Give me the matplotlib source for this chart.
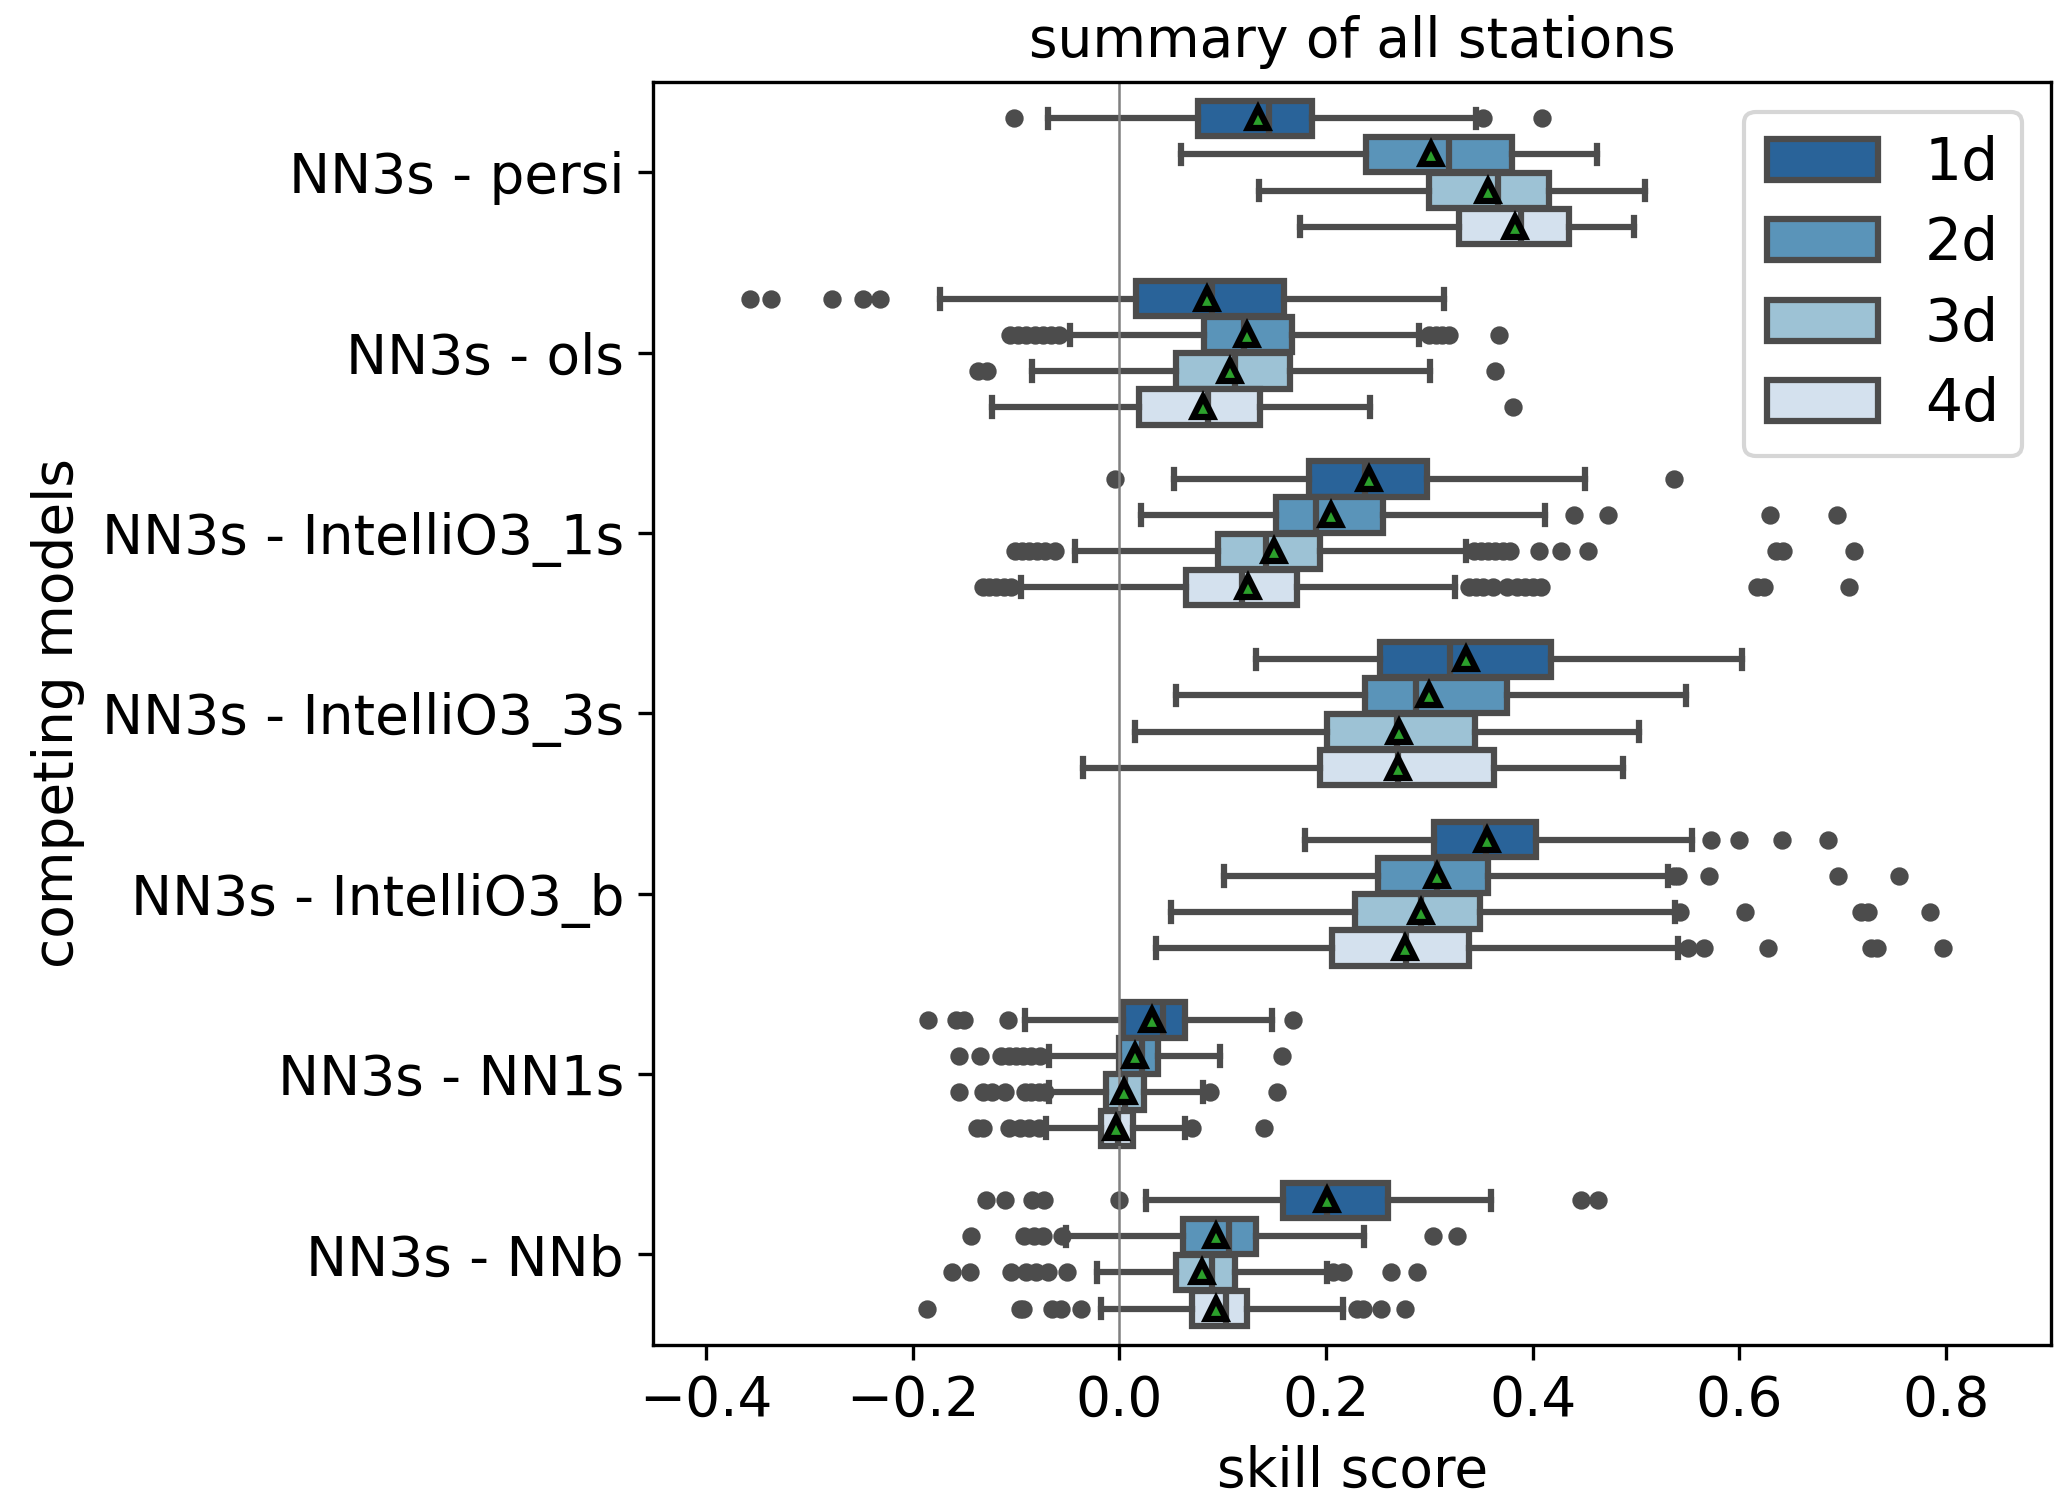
import colorsys

import matplotlib
matplotlib.use("Agg")
import matplotlib.pyplot as plt
from matplotlib.patches import Patch
import numpy as np

"""
    Skill scores of NN3s against competing models, summary of all stations.
    Box statistics read per model (rows) and lead time (columns).
"""
models = [
    "NN3s - persi",
    "NN3s - ols",
    "NN3s - IntelliO3_1s",
    "NN3s - IntelliO3_3s",
    "NN3s - IntelliO3_b",
    "NN3s - NN1s",
    "NN3s - NNb",
]
lead_times = ["1d", "2d", "3d", "4d"]

q1 = [
    [0.076, 0.239, 0.300, 0.329],
    [0.016, 0.082, 0.055, 0.019],
    [0.184, 0.152, 0.096, 0.065],
    [0.252, 0.238, 0.201, 0.194],
    [0.305, 0.250, 0.228, 0.206],
    [0.004, 0.000, -0.013, -0.018],
    [0.158, 0.062, 0.055, 0.070],
]
medians = [
    [0.145, 0.319, 0.366, 0.389],
    [0.090, 0.121, 0.112, 0.086],
    [0.238, 0.190, 0.142, 0.119],
    [0.320, 0.287, 0.269, 0.270],
    [0.355, 0.307, 0.292, 0.277],
    [0.042, 0.022, 0.006, -0.001],
    [0.201, 0.106, 0.090, 0.103],
]
q3 = [
    [0.186, 0.380, 0.416, 0.435],
    [0.159, 0.167, 0.165, 0.136],
    [0.298, 0.255, 0.194, 0.172],
    [0.418, 0.375, 0.344, 0.363],
    [0.403, 0.357, 0.349, 0.338],
    [0.064, 0.037, 0.024, 0.013],
    [0.260, 0.132, 0.112, 0.124],
]
whisker_low = [
    [-0.069, 0.060, 0.135, 0.175],
    [-0.173, -0.048, -0.084, -0.123],
    [0.053, 0.021, -0.043, -0.095],
    [0.132, 0.055, 0.015, -0.035],
    [0.180, 0.101, 0.050, 0.036],
    [-0.091, -0.068, -0.068, -0.071],
    [0.026, -0.052, -0.022, -0.018],
]
whisker_high = [
    [0.345, 0.462, 0.509, 0.498],
    [0.314, 0.290, 0.301, 0.243],
    [0.451, 0.412, 0.335, 0.325],
    [0.603, 0.548, 0.503, 0.487],
    [0.554, 0.531, 0.538, 0.541],
    [0.148, 0.097, 0.081, 0.064],
    [0.360, 0.237, 0.201, 0.216],
]
means = [
    [0.134, 0.302, 0.357, 0.383],
    [0.085, 0.124, 0.107, 0.081],
    [0.242, 0.205, 0.150, 0.125],
    [0.335, 0.300, 0.271, 0.270],
    [0.356, 0.307, 0.292, 0.276],
    [0.032, 0.015, 0.005, -0.003],
    [0.201, 0.094, 0.080, 0.094],
]
outliers = [
    [[-0.102, 0.352, 0.409], [], [], []],
    [[-0.357, -0.337, -0.278, -0.248, -0.232],
     [-0.106, -0.098, -0.090, -0.082, -0.074, -0.066, -0.058,
      0.300, 0.306, 0.312, 0.319, 0.367],
     [-0.137, -0.128, 0.364],
     [0.381]],
    [[-0.004, 0.537],
     [0.440, 0.473, 0.630, 0.694],
     [-0.101, -0.094, -0.087, -0.080, -0.072, -0.062, 0.343, 0.350, 0.357,
      0.364, 0.371, 0.378, 0.406, 0.427, 0.454, 0.635, 0.642, 0.711],
     [-0.132, -0.126, -0.119, -0.112, -0.105, 0.338, 0.345, 0.352, 0.362,
      0.375, 0.385, 0.393, 0.400, 0.408, 0.617, 0.624, 0.706]],
    [[], [], [], []],
    [[0.573, 0.600, 0.641, 0.686],
     [0.537, 0.541, 0.571, 0.695, 0.754],
     [0.543, 0.605, 0.718, 0.724, 0.784],
     [0.550, 0.566, 0.628, 0.727, 0.733, 0.797]],
    [[-0.185, -0.158, -0.150, -0.108, 0.168],
     [-0.155, -0.135, -0.114, -0.107, -0.100, -0.093, -0.085, -0.077, 0.157],
     [-0.155, -0.132, -0.123, -0.111, -0.091, -0.085, -0.078, -0.072,
      0.088, 0.153],
     [-0.138, -0.132, -0.107, -0.096, -0.087, -0.078, 0.070, 0.140]],
    [[-0.129, -0.111, -0.084, -0.073, 0.000, 0.447, 0.463],
     [-0.143, -0.092, -0.083, -0.074, -0.055, 0.304, 0.327],
     [-0.162, -0.144, -0.105, -0.090, -0.081, -0.069, -0.051,
      0.207, 0.216, 0.263, 0.288],
     [-0.186, -0.096, -0.093, -0.065, -0.056, -0.037,
      0.230, 0.236, 0.253, 0.276]],
]

"""
    Blues palette, darkest for 1d, desaturated like seaborn boxes.
"""
cmap = plt.get_cmap("Blues")
colors = []
for v in (0.8, 0.6, 0.4, 0.2):
    h, l, s = colorsys.rgb_to_hls(*cmap(v)[:3])
    colors.append(colorsys.hls_to_rgb(h, l, s * 0.75))
gray = "#4c4c4c"
lw = 1.5

plt.rcParams["font.size"] = 13.2

fig = plt.figure(figsize=(2067 / 300, 1497 / 300), dpi=300)
ax = fig.add_axes([0.316, 0.1018, 0.6765, 0.8432])

n = len(models)
for j, lt in enumerate(lead_times):
    stats = [
        dict(med=medians[i][j], q1=q1[i][j], q3=q3[i][j],
             whislo=whisker_low[i][j], whishi=whisker_high[i][j],
             mean=means[i][j], fliers=outliers[i][j])
        for i in range(n)
    ]
    ax.bxp(stats, positions=np.arange(n) + (j - 1.5) * 0.2, widths=0.196,
           orientation="horizontal", patch_artist=True, showmeans=True,
           manage_ticks=False,
           boxprops=dict(facecolor=colors[j], edgecolor=gray, linewidth=lw),
           whiskerprops=dict(color=gray, linewidth=lw),
           capprops=dict(color=gray, linewidth=lw),
           medianprops=dict(color=gray, linewidth=lw),
           flierprops=dict(marker="o", markerfacecolor=gray,
                           markeredgecolor=gray, markersize=3.8,
                           markeredgewidth=0.6),
           meanprops=dict(marker="^", markerfacecolor="#2ca02c",
                          markeredgecolor="k", markersize=5,
                          markeredgewidth=1.5))

ax.axvline(0, color="grey", linewidth=0.6)
ax.set_yticks(np.arange(n), models)
ax.set_ylim(n - 0.5, -0.5)
ax.set_xticks([-0.4, -0.2, 0.0, 0.2, 0.4, 0.6, 0.8])
ax.set_xlim(-0.451, 0.902)
ax.set_xlabel("skill score")
ax.set_ylabel("competing models")
ax.set_title("summary of all stations", fontsize=13.2)

handles = [Patch(facecolor=c, edgecolor=gray, linewidth=lw, label=lt)
           for c, lt in zip(colors, lead_times)]
ax.legend(handles=handles, loc="upper right", fontsize=14,
          labelspacing=0.4, handlelength=1.9)

fig.savefig("out.png", dpi=300)
